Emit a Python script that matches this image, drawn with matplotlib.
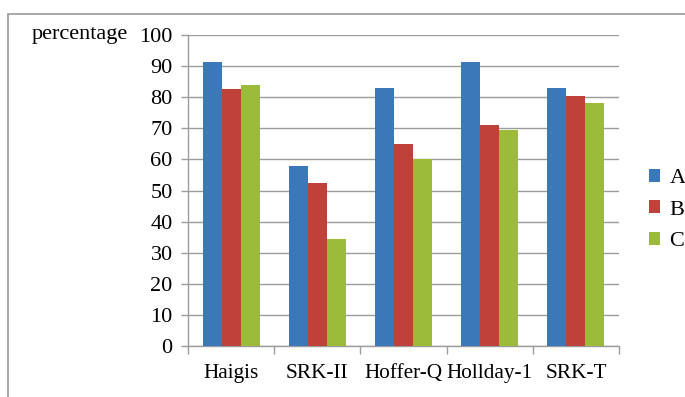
import matplotlib
matplotlib.use("Agg")
import matplotlib.pyplot as plt
import numpy as np
from matplotlib.patches import Rectangle

categories = ["Haigis", "SRK-II", "Hoffer-Q", "Hollday-1", "SRK-T"]
series_names = ["A", "B", "C"]
values_A = [91.4, 58.0, 83.1, 91.4, 83.1]
values_B = [82.6, 52.3, 65.0, 71.2, 80.4]
values_C = [83.9, 34.3, 60.0, 69.5, 78.2]
y_ticks = [0, 10, 20, 30, 40, 50, 60, 70, 80, 90, 100]
colors = ["#3B78BA", "#C0413A", "#9CBB3A"]

plt.rcParams['font.family'] = ['Liberation Serif', 'DejaVu Serif']
FS = 16

fig = plt.figure(figsize=(6.85, 3.97), dpi=100)
# outer border
fig.patches.append(Rectangle((8/685, -0.1), 1.2, 1 - 14/397 + 0.1, transform=fig.transFigure,
                             fill=False, edgecolor="#9a9a9a", linewidth=1.2))
ax = fig.add_axes([188/685, 1 - 346/397, (619 - 188)/685, (346 - 35)/397])

x = np.arange(len(categories))
w = 0.22
for i, (vals, name) in enumerate(zip([values_A, values_B, values_C], series_names)):
    ax.bar(x + (i - 1) * w, vals, width=w, color=colors[i], label=name, zorder=3)

ax.set_xlim(-0.5, len(categories) - 0.5)
ax.set_ylim(0, 100)
ax.set_yticks(y_ticks)
ax.yaxis.grid(True, color="#9c9c9c", linewidth=1.0, zorder=0)
ax.set_xticks(x)
ax.set_xticklabels(categories, fontsize=15.3)
ax.set_xticks(np.arange(-0.5, len(categories), 1), minor=True)
ax.tick_params(axis='x', which='major', length=0, pad=13)
ax.tick_params(axis='x', which='minor', length=6, color="#9c9c9c", width=1.0)
ax.tick_params(axis='y', length=5, color="#9c9c9c", width=1.0, labelsize=FS, pad=6)
for s in ["top", "right"]:
    ax.spines[s].set_visible(False)
for s in ["left", "bottom"]:
    ax.spines[s].set_color("#9c9c9c")
    ax.spines[s].set_linewidth(1.0)

fig.text(128/685, 1 - 35/397, "percentage", fontsize=FS, ha="right", va="center")

leg = ax.legend(loc="center left", bbox_to_anchor=((649 - 188)/431, (346 - 210)/311),
                frameon=False, fontsize=FS, handlelength=0.5, handleheight=0.5,
                handletextpad=0.42, labelspacing=0.55, borderpad=0, borderaxespad=0)

fig.savefig("out.png", dpi=100)
